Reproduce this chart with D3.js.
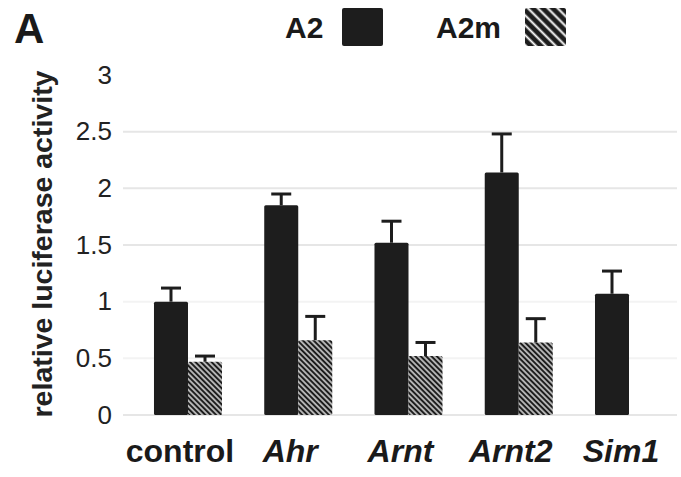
<!DOCTYPE html>
<html>
<head>
<meta charset="utf-8">
<script src="https://cdn.jsdelivr.net/npm/d3@7"></script>
<style>
body { margin:0; background:#fff; }
svg { display:block; font-family:"Liberation Sans", Arial, sans-serif; }
</style>
</head>
<body>
<svg></svg>
<script>
// values
var genes = ["control","Ahr","Arnt","Arnt2","Sim1"]
var italic = [false,true,true,true,true]
var series = ["A2","A2m"]
var a2 = [1.0, 1.85, 1.52, 2.14, 1.07]
var a2Err = [0.12, 0.10, 0.19, 0.34, 0.20]
var a2m = [0.47, 0.66, 0.52, 0.64, null]
var a2mErr = [0.05, 0.21, 0.12, 0.21, null]
var yTicks = [0, 0.5, 1, 1.5, 2, 2.5, 3]
var gridTicks = [0, 0.5, 1, 1.5, 2, 2.5]

var screen = {width:681,height:477}
var dark = "#1d1d1d"

var svg = d3.select("svg")
    .attr("width",screen.width)
    .attr("height",screen.height)

var defs = svg.append("defs")

var makeHatch = function(id, size, lw, col)
{
    var p = defs.append("pattern")
        .attr("id",id)
        .attr("patternUnits","userSpaceOnUse")
        .attr("width",size)
        .attr("height",size)
        .attr("patternTransform","rotate(-45)")
    p.append("rect").attr("width",size).attr("height",size).attr("fill",dark)
    p.append("line")
        .attr("x1",size/2).attr("y1",0)
        .attr("x2",size/2).attr("y2",size)
        .attr("stroke",col)
        .attr("stroke-width",lw)
}
makeHatch("hatchBar", 3.8, 1.6, "#d0d0d0")
makeHatch("hatchKey", 7, 2, "#ffffff")

var yScale = d3.scaleLinear()
    .domain([0,3])
    .range([415,75])

var xScale = d3.scaleBand()
    .domain(genes)
    .range([123,694])
    .paddingInner(0.383)
    .paddingOuter(0.281)

var subScale = d3.scaleBand()
    .domain(series)
    .range([0,xScale.bandwidth()])

// grid lines
svg.append("g")
    .selectAll("line")
    .data(gridTicks)
    .enter()
    .append("line")
    .attr("x1",123)
    .attr("x2",677)
    .attr("y1",function(d){return yScale(d)})
    .attr("y2",function(d){return yScale(d)})
    .attr("stroke",function(d){return (d==1||d==0.5) ? "#f3f3f3" : "#e6e6e6"})
    .attr("stroke-width",2)

// y axis
var yAxis = d3.axisLeft(yScale)
    .tickValues(yTicks)
    .tickSize(0)
    .tickPadding(11)
    .tickFormat(function(d){return d})

var yg = svg.append("g")
    .attr("transform","translate(123,0)")
    .call(yAxis)
yg.select(".domain").remove()
yg.selectAll("text")
    .style("font-size","26px")
    .style("font-family","Liberation Sans, Arial, sans-serif")
    .attr("fill","#222")

svg.append("text")
    .attr("transform","translate(52,244) rotate(-90)")
    .attr("text-anchor","middle")
    .style("font-size","28.5px")
    .style("font-weight","bold")
    .attr("fill","#222")
    .text("relative luciferase activity")

// bars
var rows = genes.map(function(g,i){
    return [
        {gene:g, s:"A2", v:a2[i], e:a2Err[i]},
        {gene:g, s:"A2m", v:a2m[i], e:a2mErr[i]}
    ]
})
var flat = [].concat.apply([], rows).filter(function(d){return d.v != null})

var bars = svg.append("g")
bars.selectAll("rect")
    .data(flat)
    .enter()
    .append("rect")
    .attr("x",function(d){return xScale(d.gene)+subScale(d.s)})
    .attr("y",function(d){return yScale(d.v)})
    .attr("width",subScale.bandwidth())
    .attr("height",function(d){return yScale(0)-yScale(d.v)})
    .attr("rx",1.5)
    .attr("fill",function(d){return d.s=="A2" ? dark : "url(#hatchBar)"})

// error bars
var errs = svg.append("g")
    .attr("stroke",dark)
    .attr("stroke-width",3)
errs.selectAll(".stem")
    .data(flat)
    .enter()
    .append("line")
    .attr("class","stem")
    .attr("x1",function(d){return xScale(d.gene)+subScale(d.s)+subScale.bandwidth()/2})
    .attr("x2",function(d){return xScale(d.gene)+subScale(d.s)+subScale.bandwidth()/2})
    .attr("y1",function(d){return yScale(d.v)})
    .attr("y2",function(d){return yScale(d.v+d.e)})
errs.selectAll(".cap")
    .data(flat)
    .enter()
    .append("line")
    .attr("class","cap")
    .attr("x1",function(d){return xScale(d.gene)+subScale(d.s)+subScale.bandwidth()/2-10})
    .attr("x2",function(d){return xScale(d.gene)+subScale(d.s)+subScale.bandwidth()/2+10})
    .attr("y1",function(d){return yScale(d.v+d.e)})
    .attr("y2",function(d){return yScale(d.v+d.e)})

// category labels
svg.append("g")
    .selectAll("text")
    .data(genes)
    .enter()
    .append("text")
    .attr("x",function(d){return xScale(d)+xScale.bandwidth()/2-8})
    .attr("y",462)
    .attr("text-anchor","middle")
    .style("font-size","32px")
    .style("font-weight","bold")
    .style("font-style",function(d,i){return italic[i] ? "italic" : "normal"})
    .attr("fill","#1a1a1a")
    .text(function(d){return d})

// panel letter and legend
svg.append("text")
    .attr("x",14)
    .attr("y",43)
    .style("font-size","42px")
    .style("font-weight","bold")
    .attr("fill","#1a1a1a")
    .text("A")

var keyX = [285, 436]
var boxX = [342, 525]
var key = svg.append("g")
key.selectAll("text")
    .data(series)
    .enter()
    .append("text")
    .attr("x",function(d,i){return keyX[i]})
    .attr("y",38)
    .style("font-size","30px")
    .style("font-weight","bold")
    .attr("fill","#1a1a1a")
    .text(function(d){return d})
key.selectAll("rect")
    .data(series)
    .enter()
    .append("rect")
    .attr("x",function(d,i){return boxX[i]})
    .attr("y",8)
    .attr("width",41)
    .attr("height",38)
    .attr("rx",2)
    .attr("fill",function(d){return d=="A2" ? dark : "url(#hatchKey)"})
</script>
</body>
</html>
